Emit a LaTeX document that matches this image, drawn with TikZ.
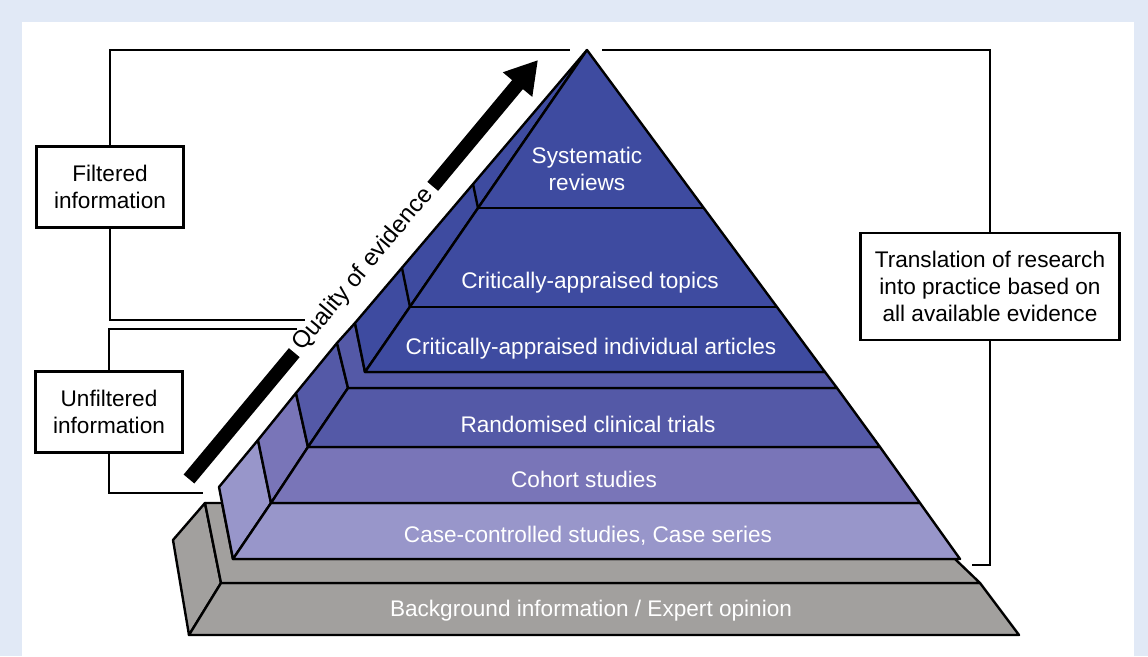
\documentclass[tikz,border=0pt]{standalone}
\usepackage{fontspec}
\setmainfont{Liberation Sans}
\usetikzlibrary{arrows.meta}
\definecolor{bgblue}{HTML}{E1E9F6}
\definecolor{topblue}{HTML}{3E4BA0}
\definecolor{rctblue}{HTML}{5459A7}
\definecolor{cohortblue}{HTML}{7975B8}
\definecolor{caseblue}{HTML}{9896CA}
\definecolor{basegray}{HTML}{A2A09E}
\newcommand{\pyrfont}{\fontsize{22.6}{27}\selectfont}
\newcommand{\qfont}{\fontsize{24}{28}\selectfont}
\tikzset{
  face/.style={
    draw=black,
    line width=2.4pt,
    line join=round
  },
  topface/.style={face, fill=topblue},
  rctface/.style={face, fill=rctblue},
  cohortface/.style={face, fill=cohortblue},
  caseface/.style={face, fill=caseblue},
  baseface/.style={face, fill=basegray},
  pyrtext/.style={
    text=white,
    align=center,
    font=\pyrfont
  },
  infobox/.style={
    rectangle,
    draw=black,
    line width=2.6pt,
    fill=white,
    align=center,
    inner sep=0pt,
    font=\pyrfont
  },
  bracket/.style={line width=2.6pt},
  quality/.style={line width=14pt, -{Triangle[length=32pt,width=36pt]}},
  qlabel/.style={
    sloped,
    fill=white,
    inner xsep=6pt,
    inner ysep=4pt,
    font=\qfont
  }
}
\begin{document}
\begin{tikzpicture}[x=1pt, y=-1pt]
  % panel
  \fill[bgblue] (0,0) rectangle (1148,656);
  \fill[white] (22,22) rectangle (1134,656);
  \useasboundingbox (0,0) rectangle (1148,656);

  % quality arrow
  \coordinate (qfrom) at (189,479);
  \coordinate (qto) at (538,60);
  \draw[quality] (qfrom) -- node[qlabel] (qtext) {Quality of evidence} (qto);

  % boxes
  \node[infobox, minimum width=147pt, minimum height=81pt] (filtered) at (110,187) {Filtered\\information};
  \node[infobox, minimum width=147pt, minimum height=81pt] (unfiltered) at (109,412) {Unfiltered\\information};
  \node[infobox, minimum width=259pt, minimum height=107pt] (translation) at (990,286.5) {Translation of research\\into practice based on\\all available evidence};

  % brackets
  \coordinate (gapleft) at (570,50);
  \coordinate (gapright) at (602,50);
  \coordinate (filtend) at (305,320);
  \coordinate (unfend) at (297,329);
  \coordinate (unfbase) at (203,493);
  \coordinate (transend) at (972,565);
  \draw[bracket] (filtered.north) |- (gapleft);
  \draw[bracket] (filtered.south) |- (filtend);
  \draw[bracket] (unfiltered.north) |- (unfend);
  \draw[bracket] (unfiltered.south) |- (unfbase);
  \draw[bracket] (gapright) -| (translation.north);
  \draw[bracket] (translation.south) |- (transend);

  % base tier
  \draw[baseface] (189,635) -- (173,540) -- (205,503) -- (221,583) -- cycle;
  \draw[baseface] (189,635) -- (1019,635) -- (980,583) -- (221,583) -- cycle;
  \draw[baseface] (205,503) -- (221,583) -- (980,583) -- (955,559) -- (233,559) -- (222,503) -- cycle;

  % middle tier, side
  \draw[caseface] (233,559) -- (219,487) -- (258,440) -- (271,503) -- cycle;
  \draw[cohortface] (271,503) -- (258,440) -- (296,393) -- (308,447) -- cycle;
  \draw[rctface] (308,447) -- (296,393) -- (337,343) -- (348,388) -- cycle;
  % middle tier, front
  \draw[caseface] (233,559) -- (960,559) -- (920,503) -- (271,503) -- cycle;
  \draw[cohortface] (271,503) -- (920,503) -- (880,447) -- (308,447) -- cycle;
  \draw[rctface] (308,447) -- (880,447) -- (837,388) -- (348,388) -- cycle;
  % middle tier, ledge
  \draw[rctface] (337,343) -- (348,388) -- (837,388) -- (825,372) -- (365,372) -- (355,323) -- cycle;

  % top tier
  \draw[topface] (365,372) -- (355,323) -- (587,50) -- cycle;
  \draw[face] (410,307) -- (402,268);
  \draw[face] (478,208) -- (473,184);
  \draw[topface] (365,372) -- (825,372) -- (587,50) -- cycle;
  \draw[face] (410,307) -- (777,307);
  \draw[face] (478,208) -- (704,208);

  % labels
  \node[pyrtext] (sysrev) at (587,169) {Systematic\\reviews};
  \node[pyrtext, anchor=base] (cat) at (590,288) {Critically-appraised topics};
  \node[pyrtext, anchor=base] (caia) at (591,354) {Critically-appraised individual articles};
  \node[pyrtext, anchor=base] (rct) at (588,432) {Randomised clinical trials};
  \node[pyrtext, anchor=base] (cohort) at (584,487) {Cohort studies};
  \node[pyrtext, anchor=base] (casectl) at (588,542) {Case-controlled studies, Case series};
  \node[pyrtext, anchor=base] (background) at (591,616) {Background information / Expert opinion};
\end{tikzpicture}
\end{document}
